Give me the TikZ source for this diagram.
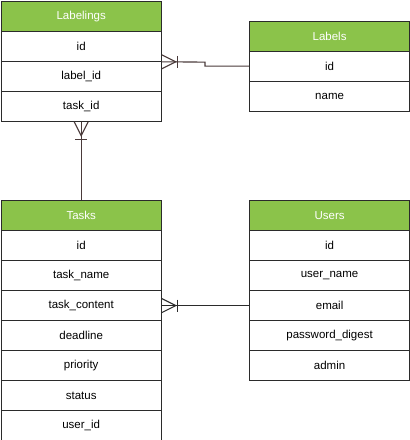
\documentclass[tikz,border=0pt]{standalone}
\usepackage{fontspec}
\setmainfont{Liberation Sans}
\definecolor{hdr}{HTML}{8BC34A}
\definecolor{edge}{HTML}{2B2B2B}
\definecolor{rel}{HTML}{4A3A3A}
\begin{document}
\begin{tikzpicture}[x=1pt,y=-1pt,
  cell/.style={draw=edge,line width=1.2pt,minimum width=160pt,minimum height=30pt,inner sep=0pt,anchor=north west,font=\fontsize{11.5}{13}\selectfont},
  head/.style={cell,fill=hdr,text=white},
  link/.style={draw=rel,line width=1.1pt},
  link2/.style={draw=edge,line width=1.1pt}]
\useasboundingbox (0,0) rectangle (410,440);
% Labelings
\node[head] (lgh) at (0.6,0.6) {Labelings};
\node[cell] (lg1) at (0.6,30.6) {id};
\node[cell] (lg2) at (0.6,60.6) {label\_id};
\node[cell] (lg3) at (0.6,90.6) {task\_id};
% Labels
\node[head] (lbh) at (249,20.5) {Labels};
\node[cell] (lb1) at (249,50.5) {id};
\node[cell] (lb2) at (249,80.5) {name};
% Tasks
\node[head] (tkh) at (0.6,200) {Tasks};
\node[cell] (tk1) at (0.6,230) {id};
\node[cell] (tk2) at (0.6,260) {task\_name};
\node[cell] (tk3) at (0.6,290) {task\_content};
\node[cell] (tk4) at (0.6,320) {deadline};
\node[cell] (tk5) at (0.6,350) {priority};
\node[cell] (tk6) at (0.6,380) {status};
\node[cell] (tk7) at (0.6,410) {user\_id};
% Users
\node[head] (ush) at (249,200) {Users};
\node[cell] (us1) at (249,230) {id};
\node[cell] (us2) at (249,260) {user\_name};
\node[cell] (us3) at (249,290) {email};
\node[cell] (us4) at (249,320) {password\_digest};
\node[cell] (us5) at (249,350) {admin};
% Labels -> Labelings (one to many)
\coordinate (a0) at (lg1.south east);
\draw[link] (lb1.west) -- ++(-44,0) -- ++(0,-4) -- (a0);
\draw[link] (a0) ++(0,-7) -- ++(14,7) -- ++(-14,7);
\draw[link] (a0) ++(16,-6) -- ++(0,12);
% Tasks -> Labelings (one to many)
\coordinate (b0) at (lg3.south);
\draw[link] (tkh.north) -- (b0);
\draw[link] (b0) ++(-7,0) -- ++(7,14) -- ++(7,-14);
\draw[link] (b0) ++(-6,18) -- ++(12,0);
% Users -> Tasks (one to many)
\coordinate (c0) at (tk3.east);
\draw[link2] (us3.west) -- (c0);
\draw[link2] (c0) ++(0,-7) -- ++(14,7) -- ++(-14,7);
\draw[link2] (c0) ++(16,-6) -- ++(0,12);
\end{tikzpicture}
\end{document}
